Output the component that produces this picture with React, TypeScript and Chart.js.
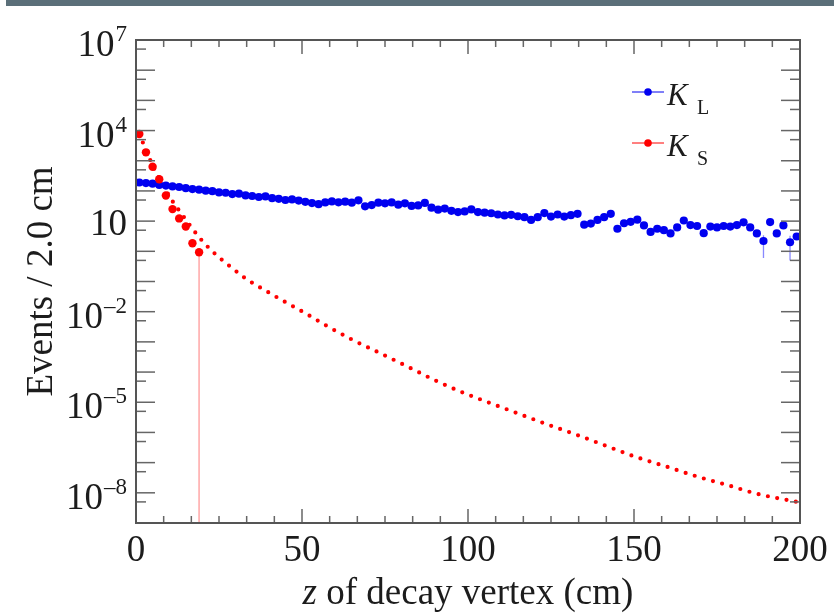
import React, { useEffect, useRef } from 'react';
import { Chart, registerables } from 'chart.js';

Chart.register(...registerables);

// ---------- data ----------
const binCentres = [
  1, 3, 5, 7, 9, 11, 13, 15, 17, 19, 21, 23, 25, 27, 29, 31, 33, 35, 37, 39,
  41, 43, 45, 47, 49, 51, 53, 55, 57, 59, 61, 63, 65, 67, 69, 71, 73, 75, 77, 79,
  81, 83, 85, 87, 89, 91, 93, 95, 97, 99, 101, 103, 105, 107, 109, 111, 113, 115, 117, 119,
  121, 123, 125, 127, 129, 131, 133, 135, 137, 139, 141, 143, 145, 147, 149, 151, 153, 155, 157, 159,
  161, 163, 165, 167, 169, 171, 173, 175, 177, 179, 181, 183, 185, 187, 189, 191, 193, 195, 197, 199,
];

const kLongValues = [
  190.5, 182, 174, 158.5, 151, 141, 135, 123, 115, 110, 102, 98, 89, 87, 79, 81, 71, 68, 63, 66,
  57.5, 55, 50, 52.5, 48, 43.6, 39.5, 36.5, 41.5, 45, 42, 44, 40.7, 49, 31, 34, 40.7, 38.9, 41.5, 35,
  39, 32, 33, 40, 28, 24, 26, 22, 20, 21, 24.5, 20, 19.1, 18.2, 16.6, 15.5, 16.2, 14.5, 13.5, 11,
  13.5, 18.5, 14.1, 16.6, 14.1, 15.8, 17.4, 7.6, 8.3, 11, 13.5, 17.4, 5.6, 8.5, 9.5, 11.2, 7.2, 4.4, 5.6, 5.0,
  3.9, 6.2, 10.5, 7.4, 6.9, 4.0, 6.6, 6.2, 6.9, 6.6, 7.4, 9.1, 6.2, 3.9, 2.2, 9.3, 3.9, 7.2, 2.0, 3.1,
];

// visible K_L error bars (bin centre, lower end, upper end)
const kLongErrZ = [189, 197];
const kLongErrLow = [0.6, 0.5];
const kLongErrHigh = [3.4, 3.3];

const kShortCentres = [1, 3, 5, 7, 9, 11, 13, 15, 17, 19];
const kShortValues = [7700, 1900, 630, 245, 71, 25, 12.3, 6.6, 1.86, 0.93];
const kShortErrLow = [7700, 1900, 630, 245, 71, 25, 12.3, 6.6, 1.86, 0];
const kShortErrHigh = [7700, 1900, 630, 245, 71, 25, 12.3, 6.6, 1.86, 1.1];

// K_S expectation (red dotted curve)
const kShortCurveZ = [
  1, 3, 5, 7, 9, 11, 13, 15, 17, 19, 21, 23, 25, 28, 33, 39, 44, 51, 57, 65,
  74, 82, 90, 98, 106, 115, 123, 133, 141, 150, 160, 169, 178, 187, 199,
];
const kShortCurveValues = [
  7943, 2239, 708, 263, 104.7, 45.7, 22.4, 11.2, 5.62, 2.95, 1.66, 1.0, 0.631, 0.339, 0.126, 0.0501, 0.024, 0.00891, 0.00363, 0.0012,
  3.98e-4, 1.48e-4, 5.37e-5, 2.19e-5, 1e-5, 4.27e-6, 2.0e-6, 8.13e-7, 3.8e-7, 1.62e-7, 7.24e-8, 3.47e-8, 1.82e-8, 9.33e-9, 5.01e-9,
];

const xTickValues = [0, 50, 100, 150, 200];
const yLabelExponents = [-8, -5, -2, 1, 4, 7];
const yMinExp = -9;
const yMaxExp = 7;

const legendLabels = [
  { main: 'K', sub: 'L', color: '#0000f0' },
  { main: 'K', sub: 'S', color: '#ff0000' },
];

// ---------- styling ----------
const SERIF = '"Liberation Serif"';
const TEXT = '#1c1c1c';
const BLUE = '#0000f0';
const RED = '#ff0000';

const decorPlugin = {
  id: 'rootDecor',
  beforeDatasetsDraw(chart: any) {
    const { ctx, chartArea: a, scales } = chart;
    const x = scales.x;
    const y = scales.y;
    ctx.save();
    ctx.beginPath();
    ctx.rect(a.left, a.top, a.right - a.left, a.bottom - a.top);
    ctx.clip();
    const pyOf = (v: number) => (v <= 0 ? a.bottom : y.getPixelForValue(v));
    ctx.strokeStyle = 'rgba(255,70,70,0.45)';
    ctx.lineWidth = 1.6;
    kShortCentres.forEach((z, i) => {
      const px = x.getPixelForValue(z);
      ctx.beginPath();
      ctx.moveTo(px, pyOf(kShortErrLow[i]));
      ctx.lineTo(px, pyOf(kShortErrHigh[i]));
      ctx.stroke();
    });
    ctx.strokeStyle = 'rgba(40,40,255,0.55)';
    ctx.lineWidth = 1.3;
    kLongErrZ.forEach((z, i) => {
      const px = x.getPixelForValue(z);
      ctx.beginPath();
      ctx.moveTo(px, pyOf(kLongErrLow[i]));
      ctx.lineTo(px, pyOf(kLongErrHigh[i]));
      ctx.stroke();
    });
    ctx.restore();
  },
  afterDatasetsDraw(chart: any) {
    const { ctx, chartArea: a, scales } = chart;
    const x = scales.x;
    const y = scales.y;
    ctx.save();
    ctx.strokeStyle = '#666';
    ctx.lineWidth = 1.5;
    const seg = (x1: number, y1: number, x2: number, y2: number) => {
      ctx.beginPath();
      ctx.moveTo(x1, y1);
      ctx.lineTo(x2, y2);
      ctx.stroke();
    };
    for (let k = 0; k <= 24; k++) {
      const px = x.getPixelForValue((k * 50) / 6);
      const len = k % 6 === 0 ? 14 : 7;
      seg(px, a.bottom, px, a.bottom - len);
      seg(px, a.top, px, a.top + len);
    }
    for (let e = yMinExp; e <= yMaxExp; e++) {
      const py = y.getPixelForValue(Math.pow(10, e));
      seg(a.left, py, a.left + 19, py);
      seg(a.right, py, a.right - 19, py);
      if (e < yMaxExp) {
        const p5 = y.getPixelForValue(5 * Math.pow(10, e));
        seg(a.left, p5, a.left + 10, p5);
        seg(a.right, p5, a.right - 10, p5);
      }
    }
    ctx.strokeStyle = '#555';
    ctx.lineWidth = 2;
    ctx.strokeRect(a.left, a.top, a.right - a.left, a.bottom - a.top);
    ctx.restore();
  },
  afterDraw(chart: any) {
    const { ctx, chartArea: a, scales } = chart;
    const y = scales.y;
    ctx.save();
    ctx.fillStyle = TEXT;
    ctx.textBaseline = 'alphabetic';
    // y tick labels: 10 with superscript exponent
    yLabelExponents.forEach((e) => {
      const py = y.getPixelForValue(Math.pow(10, e));
      const right = a.left - 9;
      ctx.textAlign = 'right';
      if (e === 1) {
        ctx.font = `37px ${SERIF}`;
        ctx.fillText('10', right, py + 14);
      } else {
        const ex = e < 0 ? '\u2013' + String(-e) : String(e);
        ctx.font = `23px ${SERIF}`;
        const we = ctx.measureText(ex).width;
        ctx.fillText(ex, right, py + 1);
        ctx.font = `37px ${SERIF}`;
        ctx.fillText('10', right - we - 1, py + 16);
      }
    });
    // y axis title
    ctx.save();
    ctx.translate(52, (a.top + a.bottom) / 2);
    ctx.rotate(-Math.PI / 2);
    ctx.font = `37px ${SERIF}`;
    ctx.textAlign = 'center';
    ctx.fillText('Events / 2.0 cm', 0, 0);
    ctx.restore();
    // x axis title with italic z
    ctx.textAlign = 'left';
    ctx.font = `italic 37px ${SERIF}`;
    const wz = ctx.measureText('z').width;
    ctx.font = `37px ${SERIF}`;
    const rest = ' of decay vertex (cm)';
    const wr = ctx.measureText(rest).width;
    const x0 = (a.left + a.right) / 2 - (wz + wr) / 2;
    ctx.font = `italic 37px ${SERIF}`;
    ctx.fillText('z', x0, 604);
    ctx.font = `37px ${SERIF}`;
    ctx.fillText(rest, x0 + wz, 604);
    // legend
    legendLabels.forEach((l, i) => {
      const cy = 92 + i * 51;
      ctx.strokeStyle = l.color;
      ctx.lineWidth = 1;
      ctx.beginPath();
      ctx.moveTo(632, cy);
      ctx.lineTo(664, cy);
      ctx.stroke();
      ctx.fillStyle = l.color;
      ctx.beginPath();
      ctx.arc(648, cy, 3.8, 0, Math.PI * 2);
      ctx.fill();
      ctx.fillStyle = TEXT;
      ctx.font = `italic 31px ${SERIF}`;
      ctx.fillText(l.main, 667, cy + 13);
      ctx.font = `20px ${SERIF}`;
      ctx.fillText(l.sub, 697, cy + 22);
    });
    ctx.restore();
  },
};

export default function App() {
  const canvasRef = useRef<HTMLCanvasElement | null>(null);

  useEffect(() => {
    if (!canvasRef.current) return;
    const chart = new Chart(canvasRef.current, {
      type: 'scatter',
      data: {
        datasets: [
          {
            label: 'K_S',
            data: kShortCentres.map((z, i) => ({ x: z, y: kShortValues[i] })),
            showLine: false,
            pointRadius: 4.2,
            pointBackgroundColor: RED,
            pointBorderWidth: 0,
            order: 0,
          },
          {
            label: 'K_L',
            data: binCentres.map((z, i) => ({ x: z, y: kLongValues[i] })),
            showLine: false,
            pointRadius: 4.1,
            pointBackgroundColor: BLUE,
            pointBorderWidth: 0,
            order: 1,
          },
          {
            label: 'K_S expected',
            data: kShortCurveZ.map((z, i) => ({ x: z, y: kShortCurveValues[i] })),
            showLine: true,
            pointRadius: 0,
            borderColor: RED,
            borderWidth: 4.2,
            borderDash: [0, 9.5],
            borderCapStyle: 'round',
            cubicInterpolationMode: 'monotone',
            order: 2,
          } as any,
        ],
      },
      options: {
        animation: false,
        responsive: false,
        events: [],
        layout: { padding: { left: 0, right: 34, top: 40, bottom: 0 } },
        plugins: { legend: { display: false }, tooltip: { enabled: false } },
        scales: {
          x: {
            type: 'linear',
            min: 0,
            max: 200,
            grid: { display: false, drawTicks: false },
            border: { display: false },
            afterFit: (s: any) => {
              s.height = 92;
            },
            afterBuildTicks: (s: any) => {
              s.ticks = xTickValues.map((v) => ({ value: v }));
            },
            ticks: {
              autoSkip: false,
              maxRotation: 0,
              padding: 6,
              color: TEXT,
              font: { family: SERIF, size: 37 },
              callback: (v: any) => String(v),
            },
          },
          y: {
            type: 'logarithmic',
            min: Math.pow(10, yMinExp),
            max: Math.pow(10, yMaxExp),
            grid: { display: false, drawTicks: false },
            border: { display: false },
            afterFit: (s: any) => {
              s.width = 136;
            },
            afterBuildTicks: (s: any) => {
              s.ticks = yLabelExponents.map((e) => ({ value: Math.pow(10, e) }));
            },
            ticks: { display: false },
          },
        },
      },
      plugins: [decorPlugin],
    } as any);
    return () => chart.destroy();
  }, []);

  return (
    <div style={{ position: 'absolute', left: 0, top: 0, width: 834, height: 615, background: '#fff' }}>
      <div style={{ position: 'absolute', left: 6, top: 0, width: 828, height: 6, background: '#5b6f79' }} />
      <canvas ref={canvasRef} width={834} height={615} style={{ display: 'block', width: 834, height: 615 }} />
    </div>
  );
}
